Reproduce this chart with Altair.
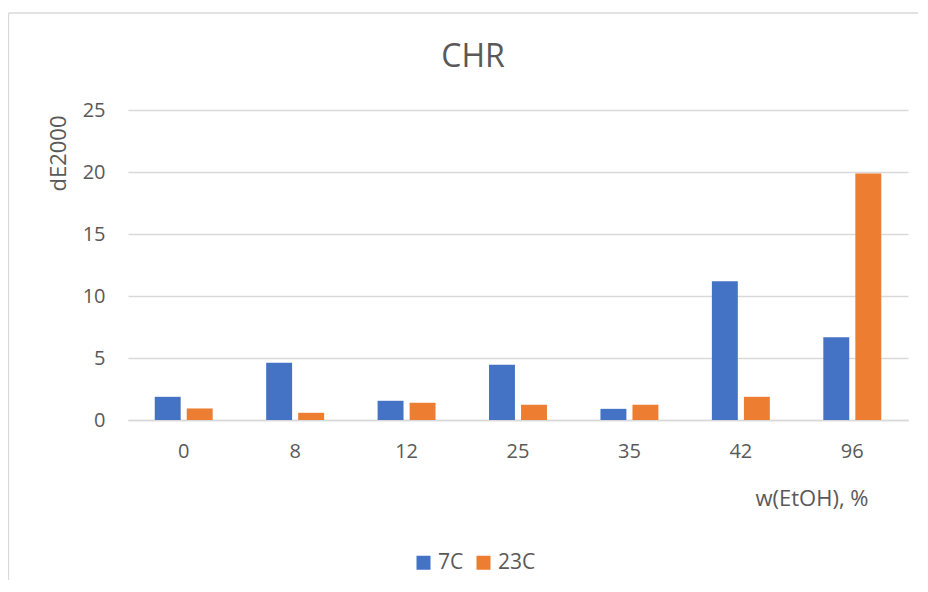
import altair as alt
import pandas as pd

categories = ["0", "8", "12", "25", "35", "42", "96"]
series_names = ["7C", "23C"]
values_7c = [1.87, 4.61, 1.55, 4.45, 0.90, 11.19, 6.68]
values_23c = [0.93, 0.58, 1.39, 1.23, 1.23, 1.87, 19.88]
y_ticks = [0, 5, 10, 15, 20, 25]

rows = []
for c, a, b in zip(categories, values_7c, values_23c):
    rows.append({"cat": c, "series": "7C", "value": a})
    rows.append({"cat": c, "series": "23C", "value": b})
df = pd.DataFrame(rows)

FONT = "Open Sans"
TXT = "#595959"
GRID = "#d9d9d9"

bars = alt.Chart(df).mark_bar().encode(
    x=alt.X("cat:N", sort=categories,
            scale=alt.Scale(paddingInner=0.48, paddingOuter=0.24),
            axis=alt.Axis(title="w(EtOH), %", labelAngle=0, labelFontSize=20,
                          labelColor=TXT, labelFont=FONT, labelPadding=21,
                          ticks=False, domainColor=GRID, domainWidth=1.3,
                          titleFontSize=22, titleFont=FONT, titleColor=TXT,
                          titleFontWeight="normal", titleX=683.5, titleY=85,
                          titleAlign="center", titleBaseline="alphabetic",
                          grid=False)),
    xOffset=alt.XOffset("series:N", sort=series_names,
                        scale=alt.Scale(paddingInner=0.19, paddingOuter=0)),
    y=alt.Y("value:Q", scale=alt.Scale(domain=[0, 25], nice=False),
            axis=alt.Axis(title="dE2000", values=y_ticks, labelFontSize=20,
                          labelColor=TXT, labelFont=FONT, labelPadding=23,
                          ticks=False, domain=False, gridColor=GRID,
                          gridWidth=1.3, titleFontSize=22, titleFont=FONT,
                          titleColor=TXT, titleFontWeight="normal",
                          titleAngle=-90, titleAlign="right",
                          titleBaseline="alphabetic", titleX=-63, titleY=5)),
    color=alt.Color("series:N", sort=series_names,
                    scale=alt.Scale(domain=series_names, range=["#4472C4", "#ED7D31"]),
                    legend=alt.Legend(title=None, orient="none", direction="horizontal",
                                      legendX=285, legendY=442, symbolType="square",
                                      symbolSize=196, symbolStrokeWidth=0,
                                      labelFontSize=21, labelFont=FONT, labelColor=TXT,
                                      labelOffset=4, columnPadding=9, padding=0)),
)

frame_df = pd.DataFrame({"a": [0]})
left_border = alt.Chart(frame_df).mark_rule(color=GRID, strokeWidth=1.3).encode(
    x=alt.value(-119.5), y=alt.value(-97), y2=alt.value(470))
top_border = alt.Chart(frame_df).mark_rule(color=GRID, strokeWidth=1.3).encode(
    x=alt.value(-119.5), x2=alt.value(790), y=alt.value(-97))

chart = alt.layer(bars, left_border, top_border).properties(
    width=780, height=310,
    title=alt.TitleParams(text="CHR", fontSize=32, font=FONT, color=TXT,
                          fontWeight="normal", anchor="middle", dx=-45,
                          offset=-54, dy=33, baseline="alphabetic"),
    autosize=alt.AutoSizeParams(type="none"),
    padding={"left": 120, "top": 102, "right": 12, "bottom": 164},
    background="white",
).configure_view(stroke=None)

chart.save("out.html", embed_options={"renderer": "svg", "actions": False})
